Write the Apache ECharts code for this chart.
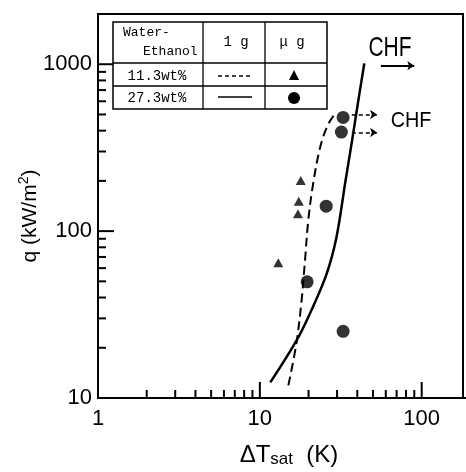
<!DOCTYPE html>
<html><head><meta charset="utf-8">
<script src="https://cdn.jsdelivr.net/npm/echarts@6/dist/echarts.min.js"></script>
<style>html,body{margin:0;padding:0;background:#fff}#c{width:466px;height:472px}</style>
</head><body><div id="c"></div>
<script>
// ---- axis ticks ----
const xTickLabels = [1, 10, 100];
const yTickLabels = [10, 100, 1000];
const xMinorTicks = [2,3,4,5,6,7,8,9,20,30,40,50,60,70,80,90];
const yMinorTicks = [20,30,40,50,60,70,80,90,200,300,400,500,600,700,800,900];

// ---- 1 g curves ----
const lowConcCurveX  = [15.0, 16.8, 18.1, 19.0, 19.9, 21.3, 23.5, 25.8, 28.3, 30.4];
const lowConcCurveY  = [11.9, 21.1, 38.2, 66.2, 115, 190, 314, 414, 486, 508];
const highConcCurveX = [11.6, 16.8, 20.3, 25.8, 29.7, 33.8, 36.8, 39.9, 42.4, 44.2];
const highConcCurveY = [12.4, 22.0, 31.8, 55.1, 91.2, 199, 330, 545, 787, 1012];

// ---- micro-g points ----
const lowConcPointsX  = [17.9, 17.4, 17.2, 13.0];
const lowConcPointsY  = [201, 151, 127, 64.7];
const highConcPointsX = [32.7, 31.9, 25.7, 19.6, 32.7];
const highConcPointsY = [480, 392, 141, 49.7, 25.1];

// ---- CHF arrows ----
const chfArrowX = [37, 53];
const chfArrowY = [500, 390];
const chfBigArrowX = [56, 90];
const chfBigArrowY = 980;

const xMin = 1, xMax = 180, yMin = 10, yMax = 2000;
const zip = (a, b) => a.map((v, i) => [v, b[i]]);
const isLabel = (arr, v) => arr.some(t => Math.abs(t - v) / t < 1e-6);

function tickSeries(axis, values, len) {
  return {
    type: 'custom', coordinateSystem: 'cartesian2d', clip: false, silent: true, z: 5,
    data: values.map(v => axis === 'x' ? [v, yMin] : [xMin, v]),
    renderItem: (params, api) => {
      const p = api.coord([api.value(0), api.value(1)]);
      const shape = axis === 'x'
        ? {x1: p[0], y1: p[1], x2: p[0], y2: p[1] - len}
        : {x1: p[0], y1: p[1], x2: p[0] + len, y2: p[1]};
      return {type: 'line', shape, style: {stroke: '#000', lineWidth: 2}};
    }
  };
}

const chart = echarts.init(document.getElementById('c'), null, {renderer: 'canvas'});
const font = 'Liberation Sans';
const mono = 'Liberation Mono';

const series = [
  tickSeries('x', xTickLabels, 16),
  tickSeries('x', xMinorTicks, 8),
  tickSeries('y', yTickLabels, 16),
  tickSeries('y', yMinorTicks, 8),
  {
    type: 'line', data: zip(lowConcCurveX, lowConcCurveY), smooth: 0.35, showSymbol: false,
    lineStyle: {color: '#000', width: 2, type: [9, 5]}, silent: true
  },
  {
    type: 'line', data: zip(highConcCurveX, highConcCurveY), smooth: 0.35, showSymbol: false,
    lineStyle: {color: '#000', width: 2.5}, silent: true
  },
  {
    type: 'scatter', data: zip(lowConcPointsX, lowConcPointsY), symbol: 'triangle', symbolSize: [10, 9],
    itemStyle: {color: '#000'}
  },
  {
    type: 'scatter', data: zip(highConcPointsX, highConcPointsY), symbol: 'circle', symbolSize: 13,
    itemStyle: {color: '#000'}
  },
  {
    type: 'lines', coordinateSystem: 'cartesian2d', silent: true,
    data: chfArrowY.map(y => ({coords: [[chfArrowX[0], y], [chfArrowX[1], y]]})),
    symbol: ['none', 'arrow'], symbolSize: 7,
    lineStyle: {color: '#000', width: 1.5, type: [4, 3], opacity: 1}
  },
  {
    type: 'lines', coordinateSystem: 'cartesian2d', silent: true,
    data: [{coords: [[chfBigArrowX[0], chfBigArrowY], [chfBigArrowX[1], chfBigArrowY]]}],
    symbol: ['none', 'arrow'], symbolSize: 7,
    lineStyle: {color: '#000', width: 2, opacity: 1}
  }
];

const graphic = [
  // axis titles
  {type: 'text', x: 289, y: 455, z: 10, style: {
    text: '{a|ΔT}{s|sat}{a|  (K)}', align: 'center', verticalAlign: 'middle',
    rich: {
      a: {fontFamily: font, fontSize: 24, fill: '#000'},
      s: {fontFamily: font, fontSize: 17, fill: '#000', padding: [9, 0, 0, 0]}
    }}},
  {type: 'text', x: 30, y: 216, rotation: Math.PI / 2, z: 10, style: {
    text: '{a|q (kW/m}{p|2}{a|)}', align: 'center', verticalAlign: 'middle',
    rich: {
      a: {fontFamily: font, fontSize: 21, fill: '#000'},
      p: {fontFamily: font, fontSize: 14, fill: '#000', padding: [0, 0, 12, 0]}
    }}},
  // CHF labels
  {type: 'text', x: 390, y: 48, scaleX: 0.75, z: 10, style: {
    text: 'CHF', fontFamily: font, fontSize: 28, fill: '#000', align: 'center', verticalAlign: 'middle'}},
  {type: 'text', x: 411, y: 121, scaleX: 0.9, z: 10, style: {
    text: 'CHF', fontFamily: font, fontSize: 22, fill: '#000', align: 'center', verticalAlign: 'middle'}},
  // bottom axis line continues past the frame
  {type: 'line', z: 10, shape: {x1: 463, y1: 398, x2: 466, y2: 398}, style: {stroke: '#000', lineWidth: 2}},
  // legend table
  {type: 'rect', z: 10, shape: {x: 113, y: 22, width: 214, height: 87},
    style: {fill: '#fff', stroke: '#000', lineWidth: 1.5}},
  {type: 'line', z: 11, shape: {x1: 203, y1: 22, x2: 203, y2: 109}, style: {stroke: '#000', lineWidth: 1.3}},
  {type: 'line', z: 11, shape: {x1: 265, y1: 22, x2: 265, y2: 109}, style: {stroke: '#000', lineWidth: 1.3}},
  {type: 'line', z: 11, shape: {x1: 113, y1: 63, x2: 327, y2: 63}, style: {stroke: '#000', lineWidth: 1.3}},
  {type: 'line', z: 11, shape: {x1: 113, y1: 86, x2: 327, y2: 86}, style: {stroke: '#000', lineWidth: 1.3}},
  {type: 'text', z: 11, x: 123, y: 33, style: {text: 'Water-', fontFamily: mono, fontSize: 13, fill: '#000', verticalAlign: 'middle'}},
  {type: 'text', z: 11, x: 143, y: 52, style: {text: 'Ethanol', fontFamily: mono, fontSize: 13, fill: '#000', verticalAlign: 'middle'}},
  {type: 'text', z: 11, x: 236, y: 42, style: {text: '1 g', fontFamily: mono, fontSize: 14, fill: '#000', align: 'center', verticalAlign: 'middle'}},
  {type: 'text', z: 11, x: 292, y: 42, style: {text: 'μ g', fontFamily: mono, fontSize: 14, fill: '#000', align: 'center', verticalAlign: 'middle'}},
  {type: 'text', z: 11, x: 157, y: 76, style: {text: '11.3wt%', fontFamily: mono, fontSize: 14, fill: '#000', align: 'center', verticalAlign: 'middle'}},
  {type: 'text', z: 11, x: 157, y: 98, style: {text: '27.3wt%', fontFamily: mono, fontSize: 14, fill: '#000', align: 'center', verticalAlign: 'middle'}},
  {type: 'line', z: 11, shape: {x1: 218, y1: 76, x2: 252, y2: 76}, style: {stroke: '#000', lineWidth: 1.5, lineDash: [4, 3]}},
  {type: 'line', z: 11, shape: {x1: 218, y1: 97, x2: 252, y2: 97}, style: {stroke: '#000', lineWidth: 1.5}},
  {type: 'polygon', z: 11, shape: {points: [[294, 70], [289, 80], [299, 80]]}, style: {fill: '#000'}},
  {type: 'circle', z: 11, shape: {cx: 294, cy: 98, r: 6}, style: {fill: '#000'}}
];

chart.setOption({
  animation: false,
  backgroundColor: '#fff',
  grid: {left: 98, right: 3, top: 14, bottom: 74, show: true, borderColor: '#000', borderWidth: 2, backgroundColor: 'transparent'},
  xAxis: {
    type: 'log', logBase: 10, min: xMin, max: xMax,
    axisLine: {lineStyle: {color: '#000', width: 2}},
    axisTick: {show: false}, splitLine: {show: false}, minorTick: {show: false},
    axisLabel: {
      margin: 10, color: '#000', fontFamily: font, fontSize: 22, showMinLabel: true, showMaxLabel: true,
      formatter: v => isLabel(xTickLabels, v) ? String(Math.round(v)) : ''
    }
  },
  yAxis: {
    type: 'log', logBase: 10, min: yMin, max: yMax,
    axisLine: {lineStyle: {color: '#000', width: 2}},
    axisTick: {show: false}, splitLine: {show: false}, minorTick: {show: false},
    axisLabel: {
      margin: 6, color: '#000', fontFamily: font, fontSize: 22, showMinLabel: true, showMaxLabel: true,
      formatter: v => isLabel(yTickLabels, v) ? String(Math.round(v)) : ''
    }
  },
  series,
  graphic
});
</script>
</body></html>
